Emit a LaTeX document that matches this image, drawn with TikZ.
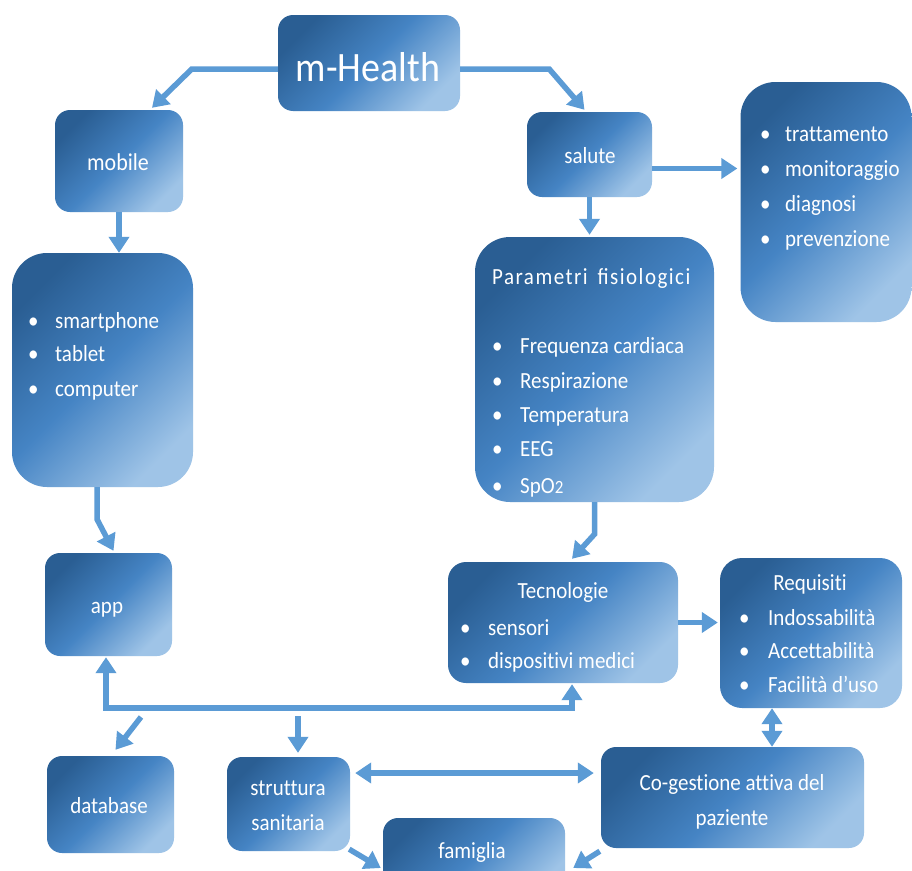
\documentclass[tikz,border=0pt]{standalone}
\usepackage{fontspec}
\setmainfont{Carlito}[Ligatures=CommonOff]
\newfontfamily\spacedfont{Carlito}[LetterSpace=7]
\usetikzlibrary{arrows.meta,calc}
\definecolor{boxdark}{HTML}{2A5E93}
\definecolor{boxmid}{HTML}{4584C4}
\definecolor{boxlight}{HTML}{9FC4E7}
\definecolor{arrowblue}{HTML}{5B9BD5}
% bullet item: bullet, then the text after a fixed gap
\newcommand{\itm}[2]{\makebox[#1][l]{\textbullet}#2}
\newsavebox{\lblbox}
\begin{document}
\begin{tikzpicture}[x=1pt,y=-1pt,
  box/.style={rounded corners=15pt, shade, top color=boxdark, bottom color=boxlight,
    middle color=boxmid, shading angle=45, draw=none, inner sep=0pt},
  bigbox/.style={box, rounded corners=35pt},
  lbl/.style={text=white, font=\fontsize{21}{25}\selectfont, inner sep=0pt, anchor=base,
    execute at begin node={\begin{lrbox}{\lblbox}},
    execute at end node={\end{lrbox}\scalebox{1}[1.1]{\usebox{\lblbox}}}},
  item/.style={lbl, anchor=base west},
  arr/.style={draw=arrowblue, line width=5.5pt, -{Triangle[width=20pt,length=16pt]}},
  arrboth/.style={draw=arrowblue, line width=5.5pt,
    {Triangle[width=20pt,length=16pt]}-{Triangle[width=20pt,length=16pt]}},
]
\useasboundingbox (0,0) rectangle (912,870);
\clip (0,0) rectangle (912,870);
\fill[white] (0,0) rectangle (912,870);

% ---- boxes ----
\node[box, minimum width=182pt, minimum height=96pt] (mh) at (369,63) {};
\node[box, minimum width=128pt, minimum height=102pt] (mobile) at (119,161) {};
\node[box, minimum width=125pt, minimum height=85pt] (salute) at (589.5,154.5) {};
\node[bigbox, minimum width=171pt, minimum height=240pt] (usi) at (826,202) {};
\node[bigbox, minimum width=181pt, minimum height=234pt] (devices) at (102.5,370) {};
\node[bigbox, minimum width=239pt, minimum height=265pt] (params) at (594.5,369.5) {};
\node[box, minimum width=127pt, minimum height=103pt] (app) at (108.5,604.5) {};
\node[box, rounded corners=18pt, minimum width=230pt, minimum height=121pt] (tech) at (563,622.5) {};
\node[box, rounded corners=22pt, minimum width=182pt, minimum height=150pt] (req) at (811,633) {};
\node[box, minimum width=127pt, minimum height=97pt] (db) at (110.5,804.5) {};
\node[box, minimum width=123pt, minimum height=94pt] (strutt) at (288.5,804) {};
\node[box, minimum width=263pt, minimum height=101pt] (cog) at (732.5,797.5) {};
\node[box, minimum width=182pt, minimum height=80pt] (fam) at (474,858) {};

% ---- texts (positioned on their baselines) ----
\node[lbl, font=\fontsize{38}{44}\selectfont] (tmh) at (368,81) {m-Health};
\node[lbl, font=\fontsize{22}{26}\selectfont] (tmobile) at (118,170) {mobile};
\node[lbl] (tsalute) at (590,163) {salute};

\node[item] (u1) at (760,141) {\itm{25pt}{trattamento}};
\node[item] (u2) at (760,176) {\itm{25pt}{monitoraggio}};
\node[item] (u3) at (760,211) {\itm{25pt}{diagnosi}};
\node[item] (u4) at (760,246) {\itm{25pt}{prevenzione}};

\node[item] (d1) at (28,328) {\itm{27pt}{smartphone}};
\node[item] (d2) at (28,361) {\itm{27pt}{tablet}};
\node[item] (d3) at (28,396) {\itm{27pt}{computer}};

\node[item] (ptitle) at (492,284) {\spacedfont Parametri\hspace{10pt}fisiologici};
\node[item] (p1) at (492,353) {\itm{28pt}{Frequenza cardiaca}};
\node[item] (p2) at (492,388) {\itm{28pt}{Respirazione}};
\node[item] (p3) at (492,422) {\itm{28pt}{Temperatura}};
\node[item] (p4) at (492,456) {\itm{28pt}{EEG}};
\node[item] (p5) at (492,493) {\itm{28pt}{SpO{\fontsize{17}{20}\selectfont 2}}};

\node[lbl] (tapp) at (107,613) {app};

\node[lbl] (ttech) at (563,598) {Tecnologie};
\node[item] (t1) at (460,635) {\itm{28pt}{sensori}};
\node[item] (t2) at (460,668) {\itm{28pt}{dispositivi medici}};

\node[lbl] (treq) at (810,590) {Requisiti};
\node[item] (r1) at (739,625) {\itm{29pt}{Indossabilità}};
\node[item] (r2) at (739,658) {\itm{29pt}{Accettabilità}};
\node[item] (r3) at (739,692) {\itm{29pt}{Facilità d’uso}};

\node[lbl] (tdb) at (109,813) {database};
\node[lbl] (ts1) at (288,795) {struttura};
\node[lbl] (ts2) at (288,830) {sanitaria};
\node[lbl] (tc1) at (732,790) {Co-gestione attiva del};
\node[lbl] (tc2) at (732,825) {paziente};
\node[lbl] (tfam) at (472,858) {famiglia};

% ---- connectors ----
\draw[arr] ($(mh.west)+(0,6)$) -- ++(-86,0) -- ($(mobile.north)+(33,-2)$);
\draw[arr] ($(mh.east)+(0,6)$) -- ++(89,0) -- ($(salute.north)+(-5,-2)$);
\draw[arr] (mobile.south) -- (mobile.south |- devices.north);
\draw[arr] ($(salute.east)+(0,14)$) coordinate (s1) -- ($(s1 -| usi.west)+(-3,0)$);
\draw[arr] (salute.south) -- ($(salute.south |- params.north)+(0,-2)$);
\draw[arr] ($(devices.south)+(-5.5,0)$) -- ++(0,32) -- ($(app.north)+(5,-2)$);
\draw[arr] (params.south) -- ++(0,32) -- ($(tech.north)+(9,-3)$);
\draw[arr] (tech.east) -- ($(tech.east -| req.west)+(-2,0)$);
\draw[arrboth] ($(app.south)+(-2.5,1)$) -- ++(0,51) -| ($(tech.south)+(9,1)$);
\coordinate (dbsrc) at (141,717);
\draw[arr] (dbsrc) -- ($(db.north)+(5,-6)$);
\coordinate (stsrc) at (298,716);
\draw[arr] (stsrc) -- ($(stsrc |- strutt.north)+(0,-4)$);
\draw[arrboth] ($(strutt.east)+(5,-31)$) coordinate (a) -- ($(a -| cog.west)+(-7,0)$);
\draw[arrboth] ($(req.south)+(-39,0)$) coordinate (b) -- (b |- cog.north);
\draw[arr] ($(strutt.south east)+(-1,-2)$) -- ($(fam.west)+(-2,10)$);
\draw[arr] ($(cog.south west)+(-1,3)$) -- ($(fam.east)+(8,10)$);
\end{tikzpicture}
\end{document}
